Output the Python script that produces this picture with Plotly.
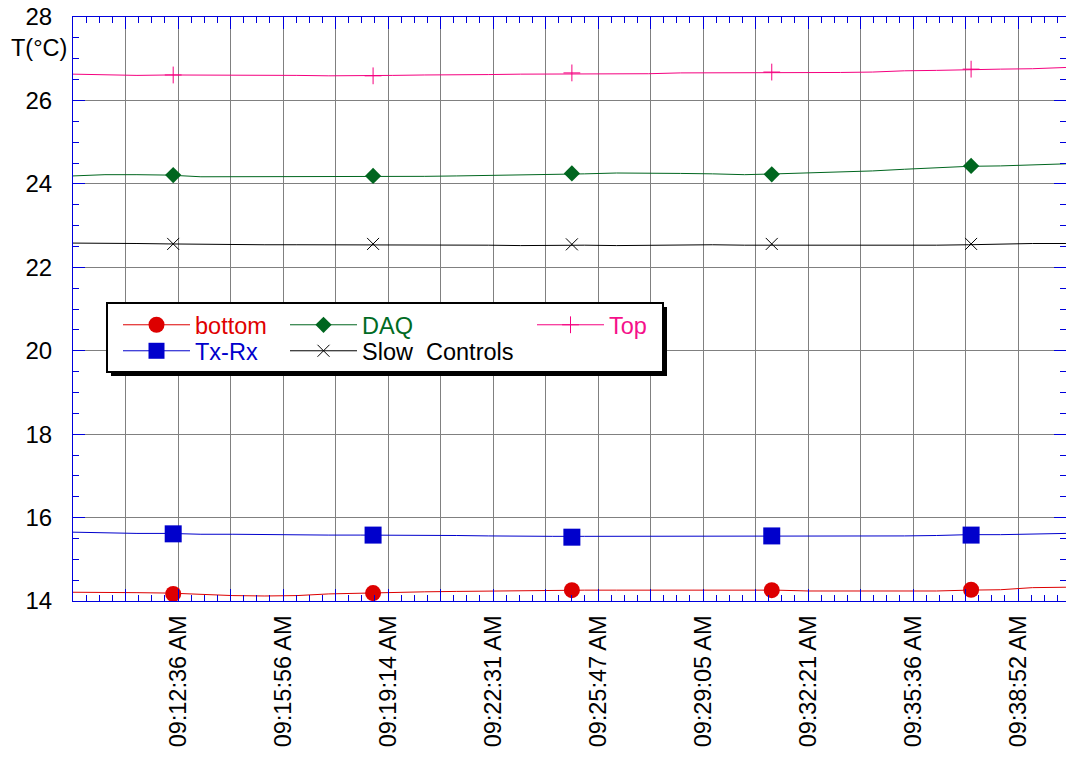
import plotly.graph_objects as go

# ---------------- data ----------------
TIMES = ["09:09:19", "09:10:19", "09:11:19", "09:12:19", "09:13:19", "09:14:19",
         "09:15:19", "09:16:19", "09:17:19", "09:18:19", "09:19:19", "09:20:19",
         "09:21:19", "09:22:19", "09:23:19", "09:24:19", "09:25:19", "09:26:19",
         "09:27:19", "09:28:19", "09:29:19", "09:30:19", "09:31:19", "09:32:19",
         "09:33:19", "09:34:19", "09:35:19", "09:36:19", "09:37:19", "09:38:19",
         "09:39:19", "09:40:22"]

TOP = [26.63, 26.62, 26.60, 26.61, 26.61, 26.60, 26.60, 26.60, 26.59, 26.59, 26.60,
       26.61, 26.61, 26.62, 26.63, 26.63, 26.64, 26.64, 26.64, 26.66, 26.66, 26.66,
       26.66, 26.67, 26.67, 26.68, 26.71, 26.72, 26.74, 26.75, 26.76, 26.79]
DAQ = [24.19, 24.22, 24.22, 24.21, 24.17, 24.17, 24.17, 24.17, 24.18, 24.18, 24.17,
       24.18, 24.19, 24.20, 24.21, 24.23, 24.24, 24.26, 24.26, 24.25, 24.24, 24.22,
       24.24, 24.26, 24.28, 24.31, 24.35, 24.38, 24.42, 24.43, 24.46, 24.48]
SLOW = [22.58, 22.58, 22.57, 22.56, 22.55, 22.55, 22.54, 22.54, 22.54, 22.53, 22.53,
        22.53, 22.54, 22.53, 22.52, 22.53, 22.53, 22.52, 22.53, 22.53, 22.54, 22.53,
        22.53, 22.52, 22.53, 22.53, 22.53, 22.53, 22.54, 22.56, 22.57, 22.57]
TXRX = [15.65, 15.63, 15.62, 15.62, 15.60, 15.60, 15.59, 15.58, 15.58, 15.58, 15.58,
        15.57, 15.57, 15.56, 15.55, 15.55, 15.55, 15.55, 15.55, 15.55, 15.56, 15.56,
        15.56, 15.56, 15.56, 15.56, 15.56, 15.57, 15.59, 15.59, 15.61, 15.62]
BOTTOM = [14.21, 14.21, 14.20, 14.19, 14.16, 14.13, 14.12, 14.13, 14.17, 14.19, 14.21,
          14.22, 14.23, 14.24, 14.24, 14.25, 14.26, 14.26, 14.26, 14.26, 14.26, 14.26,
          14.26, 14.24, 14.24, 14.23, 14.23, 14.24, 14.26, 14.27, 14.32, 14.33]

MARKER_TIMES = ["09:12:27", "09:18:42", "09:24:55", "09:31:10", "09:37:24"]
TOP_M = [26.61, 26.59, 26.66, 26.68, 26.75]
DAQ_M = [24.21, 24.19, 24.25, 24.23, 24.43]
SLOW_M = [22.56, 22.56, 22.55, 22.56, 22.56]
TXRX_M = [15.61, 15.58, 15.53, 15.56, 15.58]
BOTTOM_M = [14.17, 14.19, 14.26, 14.26, 14.27]

TICK_LABELS = ["09:12:36 AM", "09:15:56 AM", "09:19:14 AM", "09:22:31 AM",
               "09:25:47 AM", "09:29:05 AM", "09:32:21 AM", "09:35:36 AM",
               "09:38:52 AM"]
Y_RANGE = [14, 28]

# ---------------- geometry (page pixels) ----------------
W, H = 1066, 758
PLOT_L, PLOT_T, PLOT_R, PLOT_B = 73, 17, 1066, 601
ML, MT, MR, MB = PLOT_L, PLOT_T, W - PLOT_R, H - PLOT_B
PW, PH = PLOT_R - PLOT_L, PLOT_B - PLOT_T


def sec(t):
    h, m, s = (int(v) for v in t.split(":"))
    return h * 3600 + m * 60 + s


def px(x):            # page pixel x -> paper
    return (x - PLOT_L) / PW


def py(y):            # page pixel y -> paper
    return (PLOT_B - y) / PH


FONT = "Liberation Sans, Arial, sans-serif"
FS = 23.5
AXIS_BLUE = "#0000DD"
GRID = "#808080"

xs = [sec(t) for t in TIMES]
mxs = [sec(t) for t in MARKER_TIMES]

GRID_STEP = 98.5                      # seconds between vertical grid lines
GRID_PX = 52.5                        # pixels between vertical grid lines
t0 = sec(TICK_LABELS[0][:8])
tickvals, ticktext = [], []
for k in range(-1, 2 * len(TICK_LABELS) - 1):
    tickvals.append(t0 + k * GRID_STEP)
    ticktext.append(TICK_LABELS[k // 2] if (k >= 0 and k % 2 == 0) else "")
x_lo = t0 - 2 * GRID_STEP
x_hi = x_lo + PW * (GRID_STEP / GRID_PX)

series = [
    # name, y, marker y, color, symbol, size, legend id, legend page x, legend page y, text color
    ("bottom", BOTTOM, BOTTOM_M, "#DD0000", "circle", 16, "legend", 118, 325, "#E00000"),
    ("DAQ", DAQ, DAQ_M, "#00661F", "diamond", 12.5, "legend2", 285, 325, "#006B24"),
    ("Top", TOP, TOP_M, "#F5007F", "cross-thin", 12, "legend3", 532, 325, "#F5108A"),
    ("Tx-Rx", TXRX, TXRX_M, "#0000CC", "square", 17, "legend4", 118, 351, "#0000CC"),
    ("Slow  Controls", SLOW, SLOW_M, "#000000", "x-thin", 12, "legend5", 285, 351, "#000000"),
]

fig = go.Figure()
layout_legends = {}
for name, ys, mys, color, symbol, size, leg, lx, ly, tcolor in series:
    thin = symbol.endswith("-thin")
    marker = dict(symbol=symbol, size=size, color=color,
                  line=dict(width=1 if thin else 0, color=color))
    fig.add_trace(go.Scatter(x=xs, y=ys, mode="lines", line=dict(color=color, width=1),
                             showlegend=False, hoverinfo="skip"))
    fig.add_trace(go.Scatter(x=mxs, y=mys, mode="markers", marker=marker,
                             showlegend=False, name=name))
    # legend entry (line + symbol)
    fig.add_trace(go.Scatter(x=[None], y=[None], mode="lines+markers", name=name,
                             line=dict(color=color, width=1), marker=marker,
                             legend=leg, showlegend=True))
    layout_legends[leg] = dict(
        x=px(lx), y=py(ly), xanchor="left", yanchor="middle",
        bgcolor="rgba(0,0,0,0)", borderwidth=0, itemwidth=67,
        font=dict(family=FONT, size=FS, color=tcolor),
        itemclick=False, itemdoubleclick=False,
    )

# legend box with drop shadow
shapes = [
    dict(type="rect", xref="paper", yref="paper", layer="above",
         x0=px(111), x1=px(667), y0=py(307), y1=py(376),
         fillcolor="black", line=dict(width=0)),
    dict(type="rect", xref="paper", yref="paper", layer="above",
         x0=px(107), x1=px(663), y0=py(303), y1=py(372),
         fillcolor="white", line=dict(color="black", width=2)),
]

fig.update_layout(
    width=W, height=H,
    margin=dict(l=ML, r=MR, t=MT, b=MB, pad=0),
    paper_bgcolor="white", plot_bgcolor="white",
    font=dict(family=FONT, size=FS, color="black"),
    shapes=shapes,
    annotations=[dict(text="T(°C)", xref="paper", yref="paper", x=0, y=py(48),
                      xanchor="right", yanchor="middle", xshift=-4, showarrow=False,
                      font=dict(family=FONT, size=FS, color="black"))],
    **layout_legends,
)

fig.update_xaxes(
    range=[x_lo, x_hi], tickmode="array", tickvals=tickvals, ticktext=ticktext,
    tickangle=-90, tickfont=dict(family=FONT, size=FS, color="black"),
    ticks="inside", ticklen=12, tickwidth=1, tickcolor=AXIS_BLUE,
    ticklabelstandoff=4, ticklabeloverflow="allow",
    showline=True, linecolor=AXIS_BLUE, linewidth=1, mirror="ticks",
    showgrid=True, gridcolor=GRID, gridwidth=1, zeroline=False,
    minor=dict(tickmode="linear", tick0=t0, dtick=GRID_STEP / 4, ticks="inside",
               ticklen=6, tickwidth=1, tickcolor=AXIS_BLUE, showgrid=False),
)
fig.update_yaxes(
    range=Y_RANGE, tickmode="linear", tick0=14, dtick=2,
    tickfont=dict(family=FONT, size=24, color="black"),
    ticks="inside", ticklen=12, tickwidth=1, tickcolor=AXIS_BLUE,
    ticklabelstandoff=15, ticklabeloverflow="allow",
    showline=True, linecolor=AXIS_BLUE, linewidth=1, mirror="ticks",
    showgrid=True, gridcolor=GRID, gridwidth=1, zeroline=False,
    minor=dict(tickmode="linear", tick0=14, dtick=0.5, ticks="inside",
               ticklen=6, tickwidth=1, tickcolor=AXIS_BLUE, showgrid=False),
)

# the figure fills the whole window: drop the page's default body margin
fig.write_html("out.html",
               config={"displayModeBar": False},
               post_script="document.body.style.margin='0';"
                           "document.body.style.overflow='hidden';")
